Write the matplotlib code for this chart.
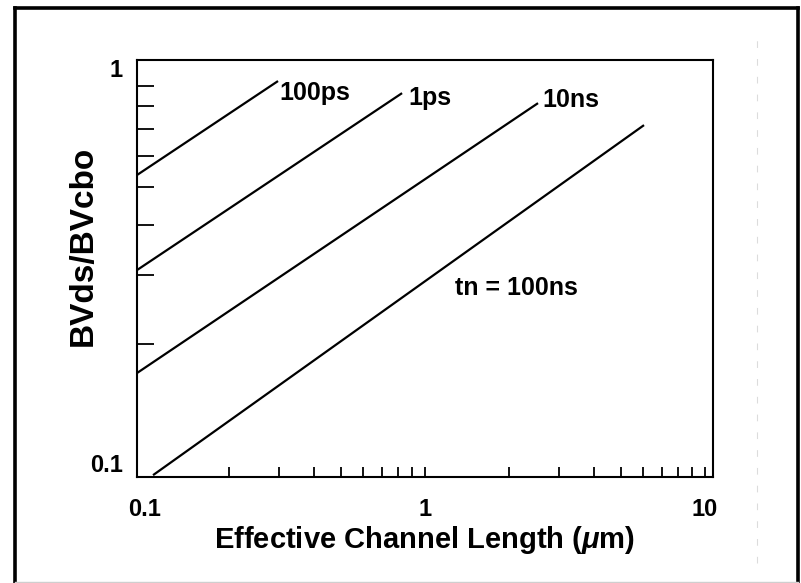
import matplotlib
matplotlib.use("Agg")
import matplotlib.pyplot as plt
from matplotlib.lines import Line2D
from matplotlib.ticker import NullFormatter

# breakdown-ratio lines, one per carrier lifetime
pulse_labels = ["100ps", "1ps", "10ns", "tn = 100ns"]
length_start = [0.0936, 0.0936, 0.0936, 0.1068]
length_end = [0.2985, 0.828, 2.533, 6.056]
ratio_start = [0.536, 0.308, 0.169, 0.0932]
ratio_end = [0.927, 0.864, 0.815, 0.717]

# where each lifetime label sits (left edge, baseline), in data units
label_length = [0.301, 0.870, 2.618, 1.28]
label_ratio = [0.830, 0.806, 0.797, 0.266]

x_major = [0.1, 1, 10]
x_major_labels = ["0.1", "1", "10"]
x_minor = [0.2, 0.3, 0.4, 0.5, 0.6, 0.7, 0.8, 0.9, 2, 3, 4, 5, 6, 7, 8, 9]
y_major = [0.1, 1]
y_major_labels = ["0.1", "1"]
y_minor = [0.2, 0.3, 0.4, 0.5, 0.6, 0.7, 0.8, 0.9]

plt.rcParams["font.family"] = ["Liberation Sans", "DejaVu Sans"]
plt.rcParams["font.weight"] = "bold"
plt.rcParams["axes.labelweight"] = "bold"
plt.rcParams["mathtext.fontset"] = "custom"
plt.rcParams["mathtext.it"] = "Liberation Sans:italic:bold"
plt.rcParams["mathtext.rm"] = "Liberation Sans:bold"

W, H = 801, 583
fig = plt.figure(figsize=(W / 100, H / 100), dpi=100)
ax = fig.add_axes([137 / W, 1 - 477 / H, 576 / W, 417 / H])

for x0, x1, y0, y1 in zip(length_start, length_end, ratio_start, ratio_end):
    ax.plot([x0, x1], [y0, y1], color="black", linewidth=1.6, solid_capstyle="butt")

for text, lx, ly in zip(pulse_labels, label_length, label_ratio):
    ax.text(lx, ly, text, fontsize=18, ha="left", va="baseline")

ax.set_xscale("log")
ax.set_yscale("log")
ax.set_xlim(0.0936, 10.68)
ax.set_ylim(0.0922, 1.048)

ax.set_xticks(x_major)
ax.set_xticklabels(x_major_labels)
ax.set_xticks(x_minor, minor=True)
ax.xaxis.set_minor_formatter(NullFormatter())
ax.set_yticks(y_major)
ax.set_yticklabels(y_major_labels)
ax.set_yticks(y_minor, minor=True)
ax.yaxis.set_minor_formatter(NullFormatter())

ax.tick_params(axis="x", which="both", direction="in", length=7, width=1.3,
               pad=15, labelsize=17)
ax.tick_params(axis="y", which="minor", direction="in", length=12, width=1.3)
ax.tick_params(axis="y", which="major", length=0, pad=10, labelsize=17)
ax.xaxis.get_major_ticks()[0].tick1line.set_visible(False)

for spine in ax.spines.values():
    spine.set_linewidth(1.5)

ax.set_xlabel(r"Effective Channel Length ($\mu$m)", fontsize=21, labelpad=2)
ax.set_ylabel("BVds/BVcbo", fontsize=24)
ax.yaxis.set_label_coords(-0.066, 0.554)

# scanned frame round the figure
frame = dict(color="black", linewidth=2.6, transform=fig.transFigure)
fig.add_artist(Line2D([14.5 / W, 14.5 / W], [0, 1 - 7.5 / H], **frame))
fig.add_artist(Line2D([14.5 / W, 797.5 / W], [1 - 7.5 / H, 1 - 7.5 / H], **frame))
fig.add_artist(Line2D([797.5 / W, 797.5 / W], [0, 1 - 7.5 / H], **frame))
fig.add_artist(Line2D([14.5 / W, 797.5 / W], [1 / H, 1 / H], color="#cfcfcf",
                      linewidth=1.0, transform=fig.transFigure))
fig.add_artist(Line2D([757 / W, 757 / W], [20 / H, 1 - 40 / H], color="#dcdcdc",
                      linewidth=0.8, linestyle=(0, (6, 10)), transform=fig.transFigure))

fig.savefig("out.png", dpi=100)
